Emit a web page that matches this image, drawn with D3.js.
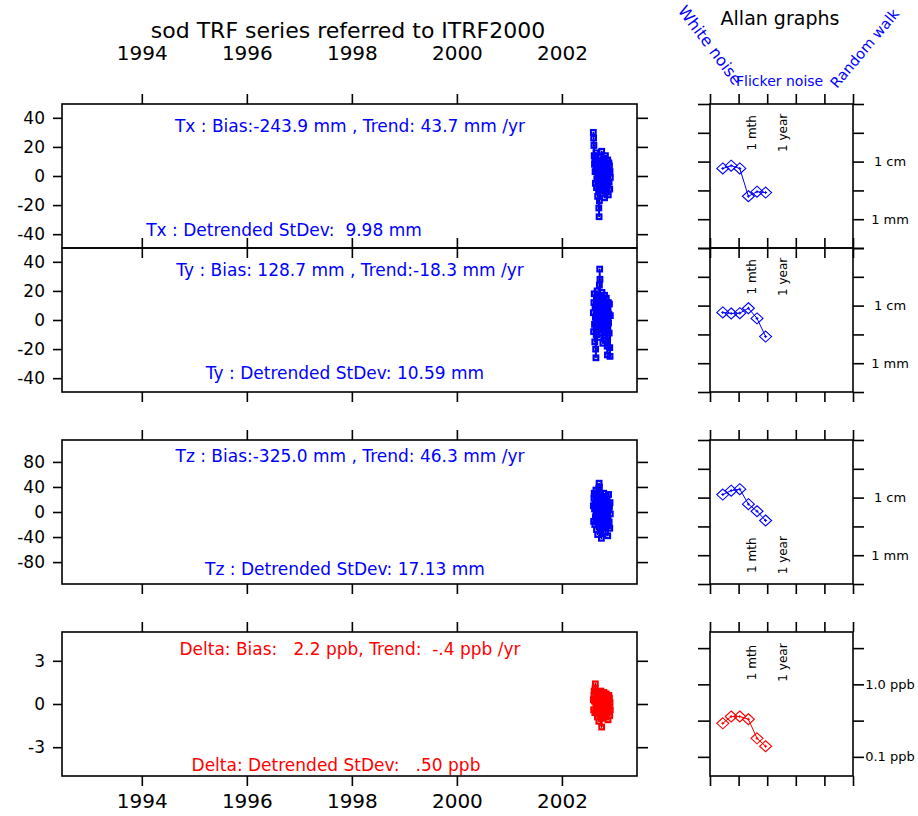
<!DOCTYPE html>
<html>
<head>
<meta charset="utf-8">
<style>
  body { margin: 0; background: #fff; }
  svg text { font-family: "DejaVu Sans", "Liberation Sans", sans-serif; white-space: pre; }
</style>
</head>
<body>
<div class="chart"></div>
<script src="https://cdn.jsdelivr.net/npm/d3@7/dist/d3.min.js"></script>
<script>
// ---- data ----
// day of year 2002 for each sample
const days = [219, 221, 223, 225, 227, 229, 231, 233, 235, 237, 239, 241, 243, 245, 247, 249, 251, 253, 255, 257,
              259, 261, 263, 265, 267, 269, 271, 273, 275, 277, 279, 281, 283, 285, 287, 289, 291, 293, 295, 297,
              299, 301, 303, 305, 307, 309, 311, 313, 315, 317, 319, 321, 323, 325, 327, 329, 331, 333, 335, 337];

const txValues = [30, 26, 21, 14, 8, 12, 3, -5, 9, 16, 4, -8, -2, 11, 6, -14, -3, 7, -10, -22,
                  -28, -17, -6, 2, 13, 5, -9, -1, 10, 17, 7, -4, -12, 0, 8, -6, 3, 12, -2, -15,
                  -7, 5, 14, 9, -3, -11, 1, 6, -8, 4, 11, -5, -13, 2, 9, -4, 7, -9, 3, -1];
const tyValues = [5, -8, 12, 18, -3, -15, 9, 2, -20, -26, -10, 6, 14, 20, 3, -7, 11, -2, 16, 8,
                  -12, 24, 35, 28, 10, -4, 15, 7, -9, 1, 19, 12, -6, -16, 4, 13, -1, 8, -11, 17,
                  6, -3, 10, -14, 2, 15, 9, -7, -18, -24, -5, 7, 12, -2, 4, -9, 11, -19, -25, 3];
const tzValues = [10, -15, 22, 30, 5, -20, 14, -8, 26, 35, 12, -28, -12, 18, 3, -36, -20, 8, 24, 38,
                  46, 40, 20, -5, 15, 28, -10, -30, -42, -18, 6, 22, 12, -4, -25, 10, 30, 16, -14, 2,
                  20, -8, -32, -20, 8, 25, 14, -6, 18, -22, -38, -10, 12, 28, 4, -16, 9, -26, 15, -3];
const deltaValues = [0.3, -0.4, 0.6, 0.9, 0.2, -0.6, 1.1, 1.4, 0.8, 0.1, -0.5, 0.4, -0.2, 0.7, -0.9, -0.3, 0.5, 0.2, -0.7, -1.2,
                     -0.4, 0.3, 0.8, 0.1, -0.6, 0.4, 0.9, -0.1, -1.0, -1.6, -0.8, 0.2, 0.6, -0.3, 0.5, -0.7, 0.1, 0.8, 0.3, -0.5,
                     -0.2, 0.6, -0.9, -0.4, 0.4, 0.7, -0.1, -0.6, 0.2, 0.5, -0.3, -1.1, -0.5, 0.3, 0.6, -0.2, 0.4, -0.8, 0.1, -0.4];

const yearTicks = [1994, 1996, 1998, 2000, 2002];
const yTicks = [[40, 20, 0, -20, -40], [40, 20, 0, -20, -40], [80, 40, 0, -40, -80], [3, 0, -3]];
const yLimits = [49.5, 49.5, 115, 5];

const biasText = ["Tx : Bias:-243.9 mm , Trend: 43.7 mm /yr",
                  "Ty : Bias: 128.7 mm , Trend:-18.3 mm /yr",
                  "Tz : Bias:-325.0 mm , Trend: 46.3 mm /yr",
                  "Delta: Bias:   2.2 ppb, Trend:  -.4 ppb /yr"];
const stdevText = ["Tx : Detrended StDev:  9.98 mm",
                   "Ty : Detrended StDev: 10.59 mm",
                   "Tz : Detrended StDev: 17.13 mm",
                   "Delta: Detrended StDev:   .50 ppb"];

// Allan deviations (tau in days, values in mm / ppb)
const allanTau = [2.8, 5.5, 11, 22, 44, 88];
const allanTx = [7.6, 8.5, 7.6, 2.5, 3.0, 2.9];
const allanTy = [7.6, 7.3, 7.4, 9.0, 6.0, 2.9];
const allanTz = [11.3, 13.2, 14.0, 7.7, 5.8, 4.0];
const allanDelta = [0.29, 0.36, 0.36, 0.33, 0.18, 0.14];
const allanTauTicks = [1, 10, 100, 1000, 10000, 100000];
const tauLabels = [["1 mth", 30], ["1 year", 365]];
const mmTicks = [100, 31.6, 10, 3.16, 1, 0.316];
const ppbTicks = [3.16, 1, 0.316, 0.1];
const mmLabels = [["1 cm", 10], ["1 mm", 1]];
const ppbLabels = [["1.0 ppb", 1], ["0.1 ppb", 0.1]];

// ---- layout ----
const width = 918, height = 816;
const panelTops = [104, 248, 440, 632], panelH = 144;
const left = 62, right = 637;
const aLeft = 710, aRight = 853;
const colors = ["#0000ff", "#0000ff", "#0000ff", "#ff0000"];
const series = [txValues, tyValues, tzValues, deltaValues];
const allanSeries = [allanTx, allanTy, allanTz, allanDelta];
const biasY = [28, 28, 22, 23], stdevY = [132, 131, 135, 139], stdevX = [284, 345, 345, 336];
const tauLabelAt = [31.6, 31.6, 1, 2];

const svg = d3.select('.chart').append('svg')
  .attr('width', width).attr('height', height);

const x = d3.scaleLinear().domain([1992.48, 2003.43]).range([left, right]);
const ax = d3.scaleLog().domain([1, 100000]).range([aLeft, aRight]);
const toYear = d => 2002 + (d - 0.5) / 365;

function styleAxis(g, size) {
  g.select('.domain').remove();
  g.selectAll('.tick line').attr('stroke', '#000').attr('stroke-width', 1.6);
  g.selectAll('text').attr('font-family', null).attr('font-size', size).attr('fill', '#000');
}

// titles
svg.append('text').attr('x', 348).attr('y', 38).attr('text-anchor', 'middle')
  .attr('font-size', 22).text('sod TRF series referred to ITRF2000');
svg.append('text').attr('x', 780).attr('y', 25).attr('text-anchor', 'middle')
  .attr('font-size', 19).text('Allan graphs');
svg.append('text').attr('transform', 'translate(734,86) rotate(53)').attr('text-anchor', 'end')
  .attr('font-size', 16).attr('fill', '#0000ff').text('White noise');
svg.append('text').attr('x', 736).attr('y', 86)
  .attr('font-size', 14).attr('fill', '#0000ff').text('Flicker noise');
svg.append('text').attr('transform', 'translate(837,89) rotate(-50)')
  .attr('font-size', 14.5).attr('fill', '#0000ff').text('Random walk');

series.forEach((vals, i) => {
  const top = panelTops[i];
  const y = d3.scaleLinear().domain([-yLimits[i], yLimits[i]]).range([top + panelH, top]);
  const g = svg.append('g');
  const pts = days.map((d, k) => [x(toYear(d)), y(vals[k])]);

  // axes
  g.append('g').attr('transform', `translate(${left},0)`)
    .call(d3.axisLeft(y).tickValues(yTicks[i]).tickSize(9).tickPadding(8).tickFormat(d => String(d)))
    .call(a => styleAxis(a, 17));
  g.append('g').attr('transform', `translate(${right},0)`)
    .call(d3.axisRight(y).tickValues(yTicks[i]).tickSize(11).tickFormat(''))
    .call(a => styleAxis(a, 17));
  g.append('g').attr('transform', `translate(0,${top})`)
    .call(d3.axisTop(x).tickValues(yearTicks).tickSize(10).tickPadding(34)
      .tickFormat(i === 0 ? d3.format('d') : ''))
    .call(a => styleAxis(a, 20));
  g.append('g').attr('transform', `translate(0,${top + panelH})`)
    .call(d3.axisBottom(x).tickValues(yearTicks).tickSize(10).tickPadding(8)
      .tickFormat(i === 3 ? d3.format('d') : ''))
    .call(a => styleAxis(a, 20));

  g.append('rect').attr('x', left).attr('y', top).attr('width', right - left).attr('height', panelH)
    .attr('fill', 'none').attr('stroke', '#000').attr('stroke-width', 1.6);

  // series
  g.append('path').datum(pts).attr('d', d3.line())
    .attr('fill', 'none').attr('stroke', colors[i]).attr('stroke-width', 1.8);
  g.selectAll('.dot').data(pts).join('rect')
    .attr('x', d => d[0] - 0.6).attr('y', d => d[1] - 0.6).attr('width', 1.2).attr('height', 1.2)
    .attr('fill', '#000');
  g.selectAll('.mk').data(pts).join('rect')
    .attr('x', d => d[0] - 2.3).attr('y', d => d[1] - 2.3).attr('width', 4.6).attr('height', 4.6)
    .attr('fill', 'none').attr('stroke', colors[i]).attr('stroke-width', 2.2);

  g.append('text').attr('x', 350).attr('y', top + biasY[i]).attr('text-anchor', 'middle')
    .attr('font-size', 17).attr('fill', colors[i]).text(biasText[i]);
  g.append('text').attr('x', stdevX[i]).attr('y', top + stdevY[i]).attr('text-anchor', 'middle')
    .attr('font-size', 17).attr('fill', colors[i]).text(stdevText[i]);

  // Allan panel
  const isPpb = i === 3;
  const ay = d3.scaleLog()
    .domain(isPpb ? [Math.pow(10, -1.264), Math.pow(10, 0.722)] : [Math.pow(10, -0.5), 100])
    .range([top + panelH, top]);
  const aTicks = isPpb ? ppbTicks : mmTicks;
  const ag = svg.append('g');
  ag.append('g').attr('transform', `translate(0,${top})`)
    .call(d3.axisTop(ax).tickValues(allanTauTicks).tickSize(10).tickFormat(''))
    .call(a => styleAxis(a, 12));
  ag.append('g').attr('transform', `translate(0,${top + panelH})`)
    .call(d3.axisBottom(ax).tickValues(allanTauTicks).tickSize(10).tickFormat(''))
    .call(a => styleAxis(a, 12));
  ag.append('g').attr('transform', `translate(${aLeft},0)`)
    .call(d3.axisLeft(ay).tickValues(aTicks).tickSize(12).tickFormat(''))
    .call(a => styleAxis(a, 12));
  ag.append('g').attr('transform', `translate(${aRight},0)`)
    .call(d3.axisRight(ay).tickValues(aTicks).tickSize(11).tickFormat(''))
    .call(a => styleAxis(a, 12));
  ag.append('rect').attr('x', aLeft).attr('y', top).attr('width', aRight - aLeft).attr('height', panelH)
    .attr('fill', 'none').attr('stroke', '#000').attr('stroke-width', 1.6);

  (isPpb ? ppbLabels : mmLabels).forEach(([t, v]) => {
    ag.append('text').attr('x', 890).attr('y', ay(v)).attr('dy', '0.35em')
      .attr('text-anchor', 'middle').attr('font-size', 13).text(t);
  });
  tauLabels.forEach(([t, v]) => {
    ag.append('text')
      .attr('transform', `translate(${ax(v)},${ay(tauLabelAt[i])}) rotate(-90)`)
      .attr('dy', '0.35em').attr('text-anchor', 'middle').attr('font-size', 12).text(t);
  });

  const apts = allanTau.map((t, k) => [ax(t), ay(allanSeries[i][k])]);
  ag.append('path').datum(apts).attr('d', d3.line())
    .attr('fill', 'none').attr('stroke', colors[i]).attr('stroke-width', 1);
  ag.selectAll('.dia').data(apts).join('path')
    .attr('transform', d => `translate(${d[0]},${d[1]})`)
    .attr('d', 'M0,-5.5L6,0L0,5.5L-6,0Z')
    .attr('fill', 'none').attr('stroke', colors[i]).attr('stroke-width', 1.1);
  ag.selectAll('.ctr').data(apts).join('path')
    .attr('transform', d => `translate(${d[0]},${d[1]})`)
    .attr('d', 'M-1.5,0H1.5M0,-1.5V1.5')
    .attr('stroke', colors[i]).attr('stroke-width', 1);
});
</script>
</body>
</html>
